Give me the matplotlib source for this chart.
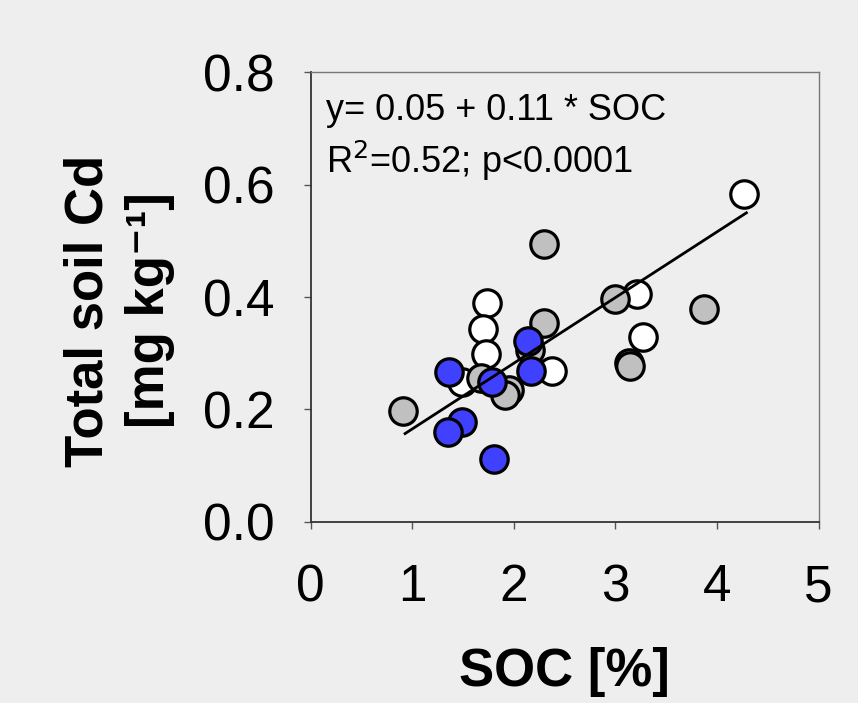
import numpy as np
import matplotlib.pyplot as plt

plt.rcParams['font.family'] = ['Liberation Sans', 'DejaVu Sans']

# white group
soc_white = [4.27, 3.21, 3.27, 1.74, 1.70, 1.73, 2.38, 1.49]
cd_white = [0.583, 0.405, 0.328, 0.389, 0.343, 0.299, 0.269, 0.248]

# gray group
soc_gray = [2.30, 3.00, 3.87, 2.30, 3.13, 3.14, 0.91, 1.68, 1.95, 1.91, 2.16]
cd_gray = [0.494, 0.396, 0.378, 0.353, 0.282, 0.277, 0.197, 0.255, 0.235, 0.226, 0.306]

# blue group
soc_blue = [1.36, 1.79, 2.14, 2.17, 1.49, 1.35, 1.81]
cd_blue = [0.266, 0.249, 0.322, 0.268, 0.177, 0.160, 0.112]

# regression line (as drawn)
fit_intercept = 0.048
fit_slope = 0.117
fit_range = [0.93, 4.29]

fig = plt.figure(figsize=(8.58, 7.03), dpi=100)
fig.patch.set_facecolor('#eeeeee')
ax = fig.add_axes([0.362, 0.258, 0.592, 0.639])
ax.set_facecolor('#eeeeee')

kw = dict(s=390, edgecolors='black', linewidths=2.3, zorder=3)
ax.scatter(soc_white, cd_white, c='white', **kw)
ax.scatter(soc_gray, cd_gray, c='#c0c0c0', **kw)
ax.scatter(soc_blue, cd_blue, c='#4040ff', **kw)

xf = np.array(fit_range)
ax.plot(xf, fit_intercept + fit_slope * xf, color='black', lw=2, zorder=4)

ax.set_xlim(0, 5)
ax.set_ylim(0, 0.8)
ax.set_xticks([0, 1, 2, 3, 4, 5])
ax.set_yticks([0.0, 0.2, 0.4, 0.6, 0.8])
ax.set_yticklabels(['0.0', '0.2', '0.4', '0.6', '0.8'])
ax.tick_params(direction='out', length=5, width=1, labelsize=37, color='#555555')
ax.tick_params(axis='y', pad=21)
ax.tick_params(axis='x', pad=25)

for side in ['left', 'bottom']:
    ax.spines[side].set_color('#333333')
    ax.spines[side].set_linewidth(1.3)
for side in ['top', 'right']:
    ax.spines[side].set_color('#777777')
    ax.spines[side].set_linewidth(1.0)

ax.set_xlabel('SOC [%]', fontsize=38, fontweight='bold', labelpad=25)
ax.set_ylabel('Total soil Cd\n[mg kg\u207b\u00b9]', fontsize=38, fontweight='bold',
              labelpad=20, linespacing=1.3)
ax.yaxis.label.set_y(0.47)

ax.text(0.03, 0.895, 'y= 0.05 + 0.11 * SOC', transform=ax.transAxes, fontsize=26)
ax.text(0.03, 0.775, 'R$^2$=0.52; p<0.0001', transform=ax.transAxes, fontsize=26)

fig.savefig('out.png', dpi=100, facecolor=fig.get_facecolor())
